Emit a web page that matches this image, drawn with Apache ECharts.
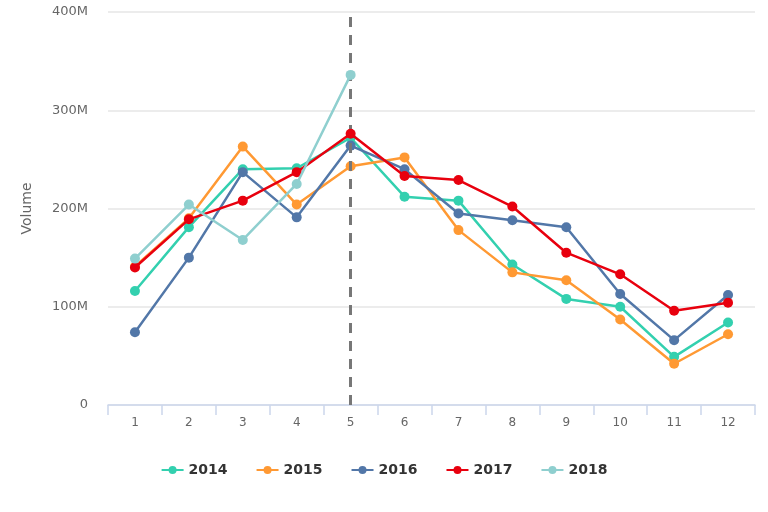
<!DOCTYPE html>
<html><head><meta charset="utf-8">
<script src="https://cdn.jsdelivr.net/npm/echarts@6/dist/echarts.min.js"></script>
<style>html,body{margin:0;padding:0;background:#fff}#c{width:768px;height:512px}</style>
</head><body><div id="c"></div>
<script>
var months = ['1','2','3','4','5','6','7','8','9','10','11','12'];
var s2014 = [116,181,240,241,272,212,208,143,108,100,49,84];
var s2015 = [141,190,263,204,243,252,178,135,127,87,42,72];
var s2016 = [74,150,237,191,264,240,195,188,181,113,66,112];
var s2017 = [140,189,208,237,276,233,229,202,155,133,96,104];
var s2018 = [149,204,168,225,336];
var seriesNames = ['2014','2015','2016','2017','2018'];
var colors = ['#33d0af','#ff9933','#5277a8','#e8000e','#8fcfcf'];
var yTicks = {0:'0',100:'100M',200:'200M',300:'300M',400:'400M'};
var markMonth = '5';

var data = [s2014,s2015,s2016,s2017,s2018];
var series = data.map(function(d,i){
  var s = {
    name: seriesNames[i], type:'line', data:d, color: colors[i],
    symbol:'circle', symbolSize:10, lineStyle:{width:2.5},
    emphasis:{disabled:true}, z: 2+i
  };
  if(i===0){
    s.markLine = {symbol:'none', silent:true, label:{show:false},
      lineStyle:{type:[10,8], color:'#777', width:3},
      data:[{xAxis: markMonth}]};
  }
  return s;
});
var chart = echarts.init(document.getElementById('c'));
chart.setOption({
  animation:false,
  textStyle:{fontFamily:'DejaVu Sans'},
  grid:{left:108,right:13,top:12,bottom:107},
  legend:{bottom:30, left:'center', itemGap:28, itemWidth:22, itemHeight:10,
    textStyle:{fontFamily:'DejaVu Sans', fontWeight:'bold', fontSize:14, color:'#333'},
    data: seriesNames
  },
  xAxis:{type:'category', data:months, boundaryGap:true,
    axisLine:{lineStyle:{color:'#ccd6eb', width:1.5}},
    axisTick:{show:true, length:10, lineStyle:{color:'#ccd6eb', width:1.5}},
    axisLabel:{color:'#666', fontSize:12, margin:12}},
  yAxis:{type:'value', min:0, max:400, interval:100, name:'Volume',
    nameLocation:'middle', nameGap:74, nameRotate:90,
    nameTextStyle:{color:'#666', fontSize:14},
    axisLine:{show:false}, axisTick:{show:false},
    axisLabel:{color:'#666', fontSize:13, margin:20, formatter:function(v){return yTicks[v];}},
    splitLine:{lineStyle:{color:'#e6e6e6', width:1.5}}},
  series: series
});
</script></body></html>
